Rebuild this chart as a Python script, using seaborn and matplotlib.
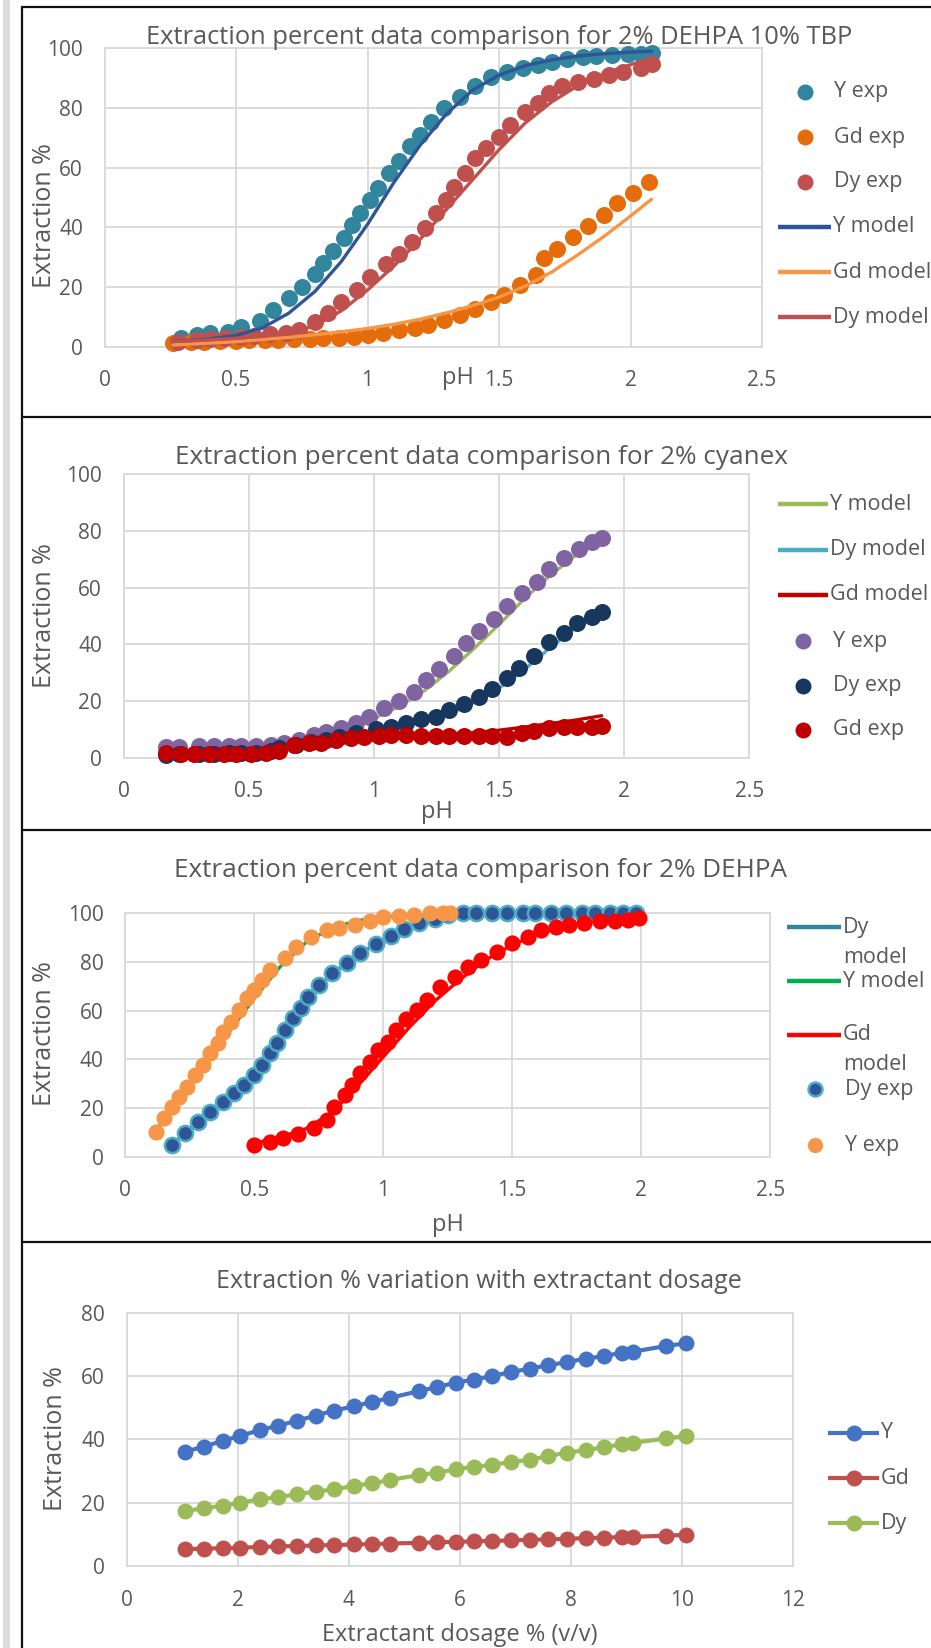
import numpy as np
import seaborn as sns
import matplotlib.pyplot as plt
from matplotlib.lines import Line2D
from matplotlib.patches import Rectangle

W, H = 931, 1648

# ---- panel 1: 2% DEHPA 10% TBP ----
p1_y_exp_ph = [0.29, 0.35, 0.40, 0.47, 0.52, 0.59, 0.64, 0.70, 0.75, 0.80, 0.83, 0.87, 0.91,
               0.94, 0.97, 1.01, 1.04, 1.08, 1.12, 1.16, 1.20, 1.24, 1.29, 1.35, 1.41, 1.47,
               1.53, 1.59, 1.65, 1.70, 1.76, 1.82, 1.87, 1.93, 1.99, 2.04, 2.08]
p1_y_exp = [2.8, 3.9, 4.5, 5.0, 6.7, 8.7, 12.3, 16.2, 19.9, 24.4, 27.9, 32.2, 36.3, 40.8, 44.9,
            49.2, 53.1, 58.1, 62.3, 67.3, 70.9, 75.4, 79.9, 83.8, 87.4, 90.5, 92.2, 93.3, 94.4,
            95.5, 96.3, 97.0, 97.4, 97.8, 98.0, 98.1, 98.3]
p1_gd_exp_ph = [0.26, 0.33, 0.38, 0.44, 0.50, 0.55, 0.61, 0.66, 0.72, 0.78, 0.83, 0.89, 0.95,
                1.00, 1.06, 1.12, 1.18, 1.23, 1.29, 1.35, 1.41, 1.47, 1.52, 1.58, 1.64, 1.67,
                1.72, 1.78, 1.84, 1.90, 1.95, 2.01, 2.07]
p1_gd_exp = [1.1, 1.7, 1.7, 2.0, 2.0, 2.2, 2.2, 2.2, 2.5, 2.6, 2.8, 3.0, 3.1, 3.9, 4.7, 5.6, 6.1,
             7.3, 8.9, 10.6, 12.5, 15.1, 17.3, 20.7, 24.0, 29.6, 32.9, 36.9, 40.5, 44.1, 48.2,
             51.6, 55.3]
p1_dy_exp_ph = [0.28, 0.35, 0.40, 0.46, 0.52, 0.57, 0.63, 0.69, 0.74, 0.80, 0.85, 0.90, 0.96,
                1.01, 1.07, 1.12, 1.17, 1.22, 1.26, 1.30, 1.33, 1.37, 1.41, 1.45, 1.50, 1.54,
                1.60, 1.65, 1.69, 1.74, 1.80, 1.86, 1.92, 1.97, 2.04, 2.08]
p1_dy_exp = [1.7, 2.2, 2.5, 2.8, 3.1, 3.6, 4.1, 4.5, 5.6, 8.4, 11.4, 15.1, 19.0, 23.5, 27.7, 31.1,
             35.2, 39.7, 44.9, 49.2, 53.6, 58.1, 63.1, 66.5, 70.4, 74.3, 78.8, 81.6, 84.9, 87.2,
             88.8, 89.6, 91.1, 92.2, 93.3, 94.9]
p1_model_ph = [0.26, 0.40, 0.50, 0.60, 0.70, 0.80, 0.90, 1.00, 1.10, 1.20, 1.30, 1.40, 1.50,
               1.60, 1.70, 1.80, 1.90, 2.00, 2.08]
p1_y_model = [1.7, 2.6, 3.8, 6.3, 11.2, 18.5, 28.5, 41.0, 55.0, 67.5, 78.0, 86.0, 91.0, 94.2,
              96.1, 97.4, 98.2, 98.7, 99.0]
p1_gd_model = [0.6, 1.2, 1.7, 2.4, 3.1, 4.0, 5.0, 6.1, 7.5, 9.2, 11.3, 13.8, 16.6, 20.3, 25.0,
               30.8, 37.0, 43.8, 49.4]
p1_dy_model = [1.7, 2.3, 2.8, 3.5, 4.6, 7.0, 12.0, 19.0, 27.0, 36.0, 46.0, 56.0, 66.0, 75.0,
               82.0, 87.5, 91.5, 94.5, 96.8]

# ---- panel 2: 2% cyanex ----
p2_y_exp_ph = [0.17, 0.22, 0.30, 0.36, 0.42, 0.47, 0.53, 0.59, 0.64, 0.70, 0.76, 0.81, 0.87,
               0.93, 0.98, 1.04, 1.10, 1.16, 1.21, 1.26, 1.32, 1.37, 1.42, 1.48, 1.53, 1.59,
               1.65, 1.70, 1.76, 1.82, 1.87, 1.91]
p2_y_exp = [3.9, 3.9, 4.1, 4.1, 4.1, 4.1, 4.1, 4.5, 5.1, 6.2, 8.0, 9.2, 10.4, 12.1, 14.5, 17.4,
            20.0, 23.3, 27.4, 31.3, 36.0, 40.6, 44.7, 48.9, 53.6, 58.0, 62.1, 66.6, 70.4, 73.6,
            76.2, 77.4]
p2_dy_exp_ph = [0.17, 0.22, 0.30, 0.36, 0.42, 0.47, 0.53, 0.59, 0.62, 0.69, 0.75, 0.81, 0.86,
                0.93, 1.01, 1.07, 1.13, 1.19, 1.25, 1.30, 1.36, 1.42, 1.47, 1.53, 1.58, 1.64,
                1.70, 1.76, 1.81, 1.87, 1.91]
p2_dy_exp = [1.0, 1.2, 1.3, 1.4, 1.5, 1.6, 1.8, 2.2, 3.3, 4.5, 5.6, 6.2, 7.4, 8.6, 10.1, 10.9,
             12.1, 13.6, 14.4, 16.8, 18.8, 21.5, 24.2, 28.0, 31.8, 36.0, 40.7, 43.9, 47.4, 49.8,
             51.5]
p2_gd_exp_ph = [0.17, 0.23, 0.28, 0.34, 0.40, 0.45, 0.51, 0.57, 0.62, 0.68, 0.74, 0.79, 0.85,
                0.91, 0.96, 1.02, 1.07, 1.13, 1.19, 1.25, 1.30, 1.36, 1.42, 1.47, 1.53, 1.59,
                1.64, 1.70, 1.76, 1.81, 1.87, 1.91]
p2_gd_exp = [1.5, 1.2, 1.2, 1.2, 1.2, 1.2, 1.2, 1.5, 2.4, 4.5, 5.1, 5.3, 6.2, 6.8, 7.4, 7.8, 8.0,
             8.0, 7.8, 7.8, 7.8, 7.8, 7.8, 7.8, 7.3, 8.6, 9.4, 10.4, 10.9, 10.9, 10.9, 11.3]
p2_model_ph = [0.17, 0.30, 0.40, 0.50, 0.60, 0.70, 0.80, 0.90, 1.00, 1.10, 1.20, 1.30, 1.40,
               1.50, 1.60, 1.70, 1.80, 1.91]
p2_y_model = [1.0, 1.2, 1.6, 2.4, 3.6, 5.6, 8.0, 10.5, 13.8, 18.0, 23.5, 30.5, 38.5, 47.0, 56.0,
              64.0, 71.0, 76.5]
p2_dy_model = [0.8, 1.0, 1.3, 1.8, 2.6, 3.8, 5.2, 6.8, 8.6, 10.6, 12.8, 15.6, 19.5, 24.5, 31.0,
               38.5, 45.5, 51.0]
p2_gd_model = [0.8, 1.3, 1.8, 2.4, 3.0, 3.8, 4.6, 5.4, 6.2, 6.9, 7.5, 8.1, 8.8, 9.7, 10.8, 12.0,
               13.2, 14.8]

# ---- panel 3: 2% DEHPA ----
p3_y_exp_ph = [0.12, 0.15, 0.18, 0.21, 0.24, 0.27, 0.30, 0.33, 0.36, 0.38, 0.41, 0.44, 0.47,
               0.50, 0.53, 0.56, 0.62, 0.66, 0.72, 0.78, 0.83, 0.89, 0.95, 1.00, 1.06, 1.12,
               1.18, 1.23, 1.26]
p3_y_exp = [10.3, 15.8, 20.5, 24.7, 28.8, 33.6, 37.7, 42.5, 46.6, 51.4, 55.5, 60.3, 65.1, 68.5,
            72.6, 76.7, 81.5, 86.3, 90.4, 93.2, 93.8, 95.2, 97.0, 98.4, 98.9, 99.3, 100.0,
            100.0, 100.0]
p3_dy_exp_ph = [0.18, 0.23, 0.28, 0.33, 0.38, 0.42, 0.46, 0.50, 0.53, 0.56, 0.59, 0.62, 0.65,
                0.68, 0.71, 0.75, 0.80, 0.86, 0.91, 0.97, 1.03, 1.08, 1.14, 1.20, 1.25, 1.31,
                1.36, 1.42, 1.48, 1.54, 1.59, 1.65, 1.71, 1.77, 1.82, 1.88, 1.93, 1.98]
p3_dy_exp = [4.8, 9.6, 14.4, 18.5, 22.6, 26.3, 29.5, 33.6, 37.7, 42.5, 46.6, 52.1, 56.8, 61.0,
             65.8, 70.5, 75.6, 79.7, 83.6, 87.4, 90.7, 93.4, 95.9, 97.5, 99.3, 100, 100, 100,
             100, 100, 100, 100, 100, 100, 100, 100, 100, 100]
p3_gd_exp_ph = [0.50, 0.56, 0.61, 0.67, 0.73, 0.78, 0.81, 0.85, 0.88, 0.91, 0.95, 0.98, 1.02,
                1.05, 1.09, 1.13, 1.17, 1.22, 1.28, 1.33, 1.38, 1.44, 1.50, 1.56, 1.61, 1.67,
                1.72, 1.78, 1.84, 1.90, 1.95, 1.99]
p3_gd_exp = [4.8, 6.2, 7.5, 9.3, 11.9, 15.1, 20.5, 25.3, 29.5, 34.2, 39.0, 43.8, 47.3, 52.1,
             56.4, 60.3, 64.4, 69.9, 74.0, 77.8, 80.8, 84.2, 87.7, 90.4, 93.2, 94.2, 95.2, 96.2,
             96.8, 97.0, 97.3, 98.0]
p3_y_model_ph = [0.12, 0.20, 0.30, 0.40, 0.50, 0.60, 0.70, 0.80, 0.90, 1.00, 1.10, 1.26]
p3_y_model = [11, 22, 36, 51, 65, 78, 88, 94, 97, 98.5, 99.3, 99.8]
p3_dy_model_ph = [0.18, 0.30, 0.40, 0.50, 0.60, 0.70, 0.80, 0.90, 1.00, 1.10, 1.20, 1.30, 1.50, 1.98]
p3_dy_model = [5, 16, 24.5, 34, 48, 64, 75, 83, 89, 94, 97.5, 99.3, 100, 100]
p3_gd_model_ph = [0.50, 0.60, 0.70, 0.80, 0.90, 1.00, 1.10, 1.20, 1.30, 1.40, 1.50, 1.60, 1.70,
                  1.80, 1.99]
p3_gd_model = [5.5, 8, 11.5, 18, 29, 41, 53, 64, 73, 81, 87, 91.5, 94.5, 96.5, 98]

# ---- panel 4: dosage ----
dosage = [1.06, 1.39, 1.73, 2.05, 2.40, 2.73, 3.07, 3.41, 3.74, 4.09, 4.42, 4.75, 5.26, 5.59,
          5.93, 6.26, 6.59, 6.93, 7.26, 7.59, 7.94, 8.27, 8.61, 8.93, 9.13, 9.72, 10.07]
dose_y = [36.1, 37.7, 39.5, 41.1, 42.9, 44.3, 45.9, 47.5, 49.1, 50.4, 51.8, 53.1, 55.2, 56.5,
          57.9, 58.9, 60.0, 61.3, 62.3, 63.4, 64.4, 65.5, 66.3, 67.4, 67.7, 69.5, 70.3]
dose_gd = [5.3, 5.5, 5.6, 5.8, 6.0, 6.2, 6.3, 6.5, 6.6, 6.8, 6.9, 7.1, 7.3, 7.5, 7.6, 7.8, 7.9,
           8.1, 8.3, 8.4, 8.6, 8.8, 9.0, 9.1, 9.2, 9.6, 9.8]
dose_dy = [17.4, 18.2, 19.1, 20.0, 21.1, 21.7, 22.7, 23.5, 24.2, 25.3, 26.1, 27.2, 28.7, 29.5,
           30.5, 31.4, 31.9, 32.9, 33.5, 34.7, 35.8, 36.6, 37.5, 38.5, 38.9, 40.3, 41.1]

TXT = "#595959"
GRID = "#D9D9D9"

sns.set_theme(style="white")
plt.rcParams['font.family'] = ['Open Sans', 'DejaVu Sans']

fig = plt.figure(figsize=(W / 100, H / 100), dpi=100)
fig.patch.set_facecolor("white")


def fx(x):
    return x / W


def fy(y):
    return 1 - y / H


def make_ax(l, t, r, b, xmax, xstep, ymax, ystep):
    ax = fig.add_axes([fx(l), fy(b), (r - l) / W, (b - t) / H])
    ax.set_xlim(0, xmax)
    ax.set_ylim(0, ymax)
    xt = np.arange(0, xmax + xstep / 2, xstep)
    yt = np.arange(0, ymax + ystep / 2, ystep)
    ax.set_xticks(xt)
    ax.set_xticklabels([f"{v:g}" for v in xt])
    ax.set_yticks(yt)
    ax.set_yticklabels([f"{v:g}" for v in yt])
    ax.grid(True, color=GRID, lw=1.3)
    ax.set_axisbelow(True)
    for s in ax.spines.values():
        s.set_color(GRID)
        s.set_linewidth(1.3)
    ax.tick_params(length=0, labelsize=15, labelcolor=TXT)
    ax.tick_params(axis="y", pad=15.5)
    ax.tick_params(axis="x", pad=17)
    return ax


def labels(ax, title, tsize, xlabel, xl_xy, yl_xy, l, t, r, b):
    fig.text(fx(title[0]), fy(title[1]), title[2], ha="center", va="center",
             fontsize=tsize, color=TXT)
    ax.set_xlabel(xlabel, fontsize=17, color=TXT, va="center")
    ax.xaxis.set_label_coords((xl_xy[0] - l) / (r - l), -(xl_xy[1] - b) / (b - t))
    ax.set_ylabel("Extraction %", fontsize=18, color=TXT, va="center", ha="center")
    ax.yaxis.set_label_coords((yl_xy[0] - l) / (r - l), (b - yl_xy[1]) / (b - t))


def key_line(x0, x1, y, color, lw=3.2):
    fig.add_artist(Line2D([fx(x0), fx(x1)], [fy(y), fy(y)], color=color, lw=lw,
                          solid_capstyle="butt"))


def key_dot(x, y, color, ms=11.5, edge=None, mew=0):
    fig.add_artist(Line2D([fx(x)], [fy(y)], marker="o", ms=ms, color=color, ls="none",
                          mec=edge if edge else color, mew=mew))


def key_text(x, y, s):
    fig.text(fx(x), fy(y), s, ha="left", va="center", fontsize=15.5, color=TXT)


def dots(ax, x, y, color, s=150, z=3, **kw):
    sns.scatterplot(x=x, y=y, color=color, s=s, linewidth=0, ax=ax, zorder=z,
                    clip_on=False, legend=False, **kw)


def curve(ax, x, y, color, z=4, lw=2.4):
    sns.lineplot(x=x, y=y, color=color, lw=lw, ax=ax, zorder=z, legend=False)


# page frame
fig.add_artist(Rectangle((fx(3), 0), 7 / W, 1, transform=fig.transFigure,
                         color="#DCDCDC", lw=0))
fig.add_artist(Line2D([fx(22), fx(22)], [fy(7), 0], color="#111111", lw=1.6))
for yy in [7, 417, 830, 1242]:
    fig.add_artist(Line2D([fx(22), 1], [fy(yy), fy(yy)], color="#111111", lw=1.6))

# ---- panel 1 ----
L, T, R, B = 104.5, 48.3, 762, 346.7
ax1 = make_ax(L, T, R, B, 2.5, 0.5, 100, 20)
dots(ax1, p1_y_exp_ph, p1_y_exp, "#31859C")
dots(ax1, p1_gd_exp_ph, p1_gd_exp, "#E46C0A")
dots(ax1, p1_dy_exp_ph, p1_dy_exp, "#C0504D")
curve(ax1, p1_model_ph, p1_y_model, "#2F5597")
curve(ax1, p1_model_ph, p1_gd_model, "#F79646")
curve(ax1, p1_model_ph, p1_dy_model, "#C0504D")
labels(ax1, (499, 37, "Extraction percent data comparison for 2% DEHPA 10% TBP"), 18.4,
       "pH", (458, 378), (44.5, 216), L, T, R, B)
key_dot(805, 92, "#31859C")
key_dot(805, 137, "#E46C0A")
key_dot(805, 182, "#C0504D")
key_line(778, 831, 227, "#2F5597")
key_line(778, 831, 272, "#F79646")
key_line(778, 831, 317, "#C0504D")
for yy, s in zip([92, 137, 182], ["Y exp", "Gd exp", "Dy exp"]):
    key_text(834, yy, s)
for yy, s in zip([227, 272, 317], ["Y model", "Gd model", "Dy model"]):
    key_text(833, yy, s)

# ---- panel 2 ----
L, T, R, B = 123.5, 474.3, 749.4, 757.7
ax2 = make_ax(L, T, R, B, 2.5, 0.5, 100, 20)
curve(ax2, p2_model_ph, p2_y_model, "#9BBB59", z=2.5)
curve(ax2, p2_model_ph, p2_dy_model, "#4BACC6", z=2.5)
curve(ax2, p2_model_ph, p2_gd_model, "#C00000", z=2.5)
dots(ax2, p2_y_exp_ph, p2_y_exp, "#8064A2")
dots(ax2, p2_dy_exp_ph, p2_dy_exp, "#17375E")
dots(ax2, p2_gd_exp_ph, p2_gd_exp, "#C00000")
labels(ax2, (481, 458, "Extraction percent data comparison for 2% cyanex"), 18.8, "pH",
       (436.5, 812), (44.5, 616), L, T, R, B)
key_line(778, 828, 504, "#9BBB59")
key_line(778, 828, 550, "#4BACC6")
key_line(778, 828, 595, "#C00000")
for yy, s in zip([504, 550, 595], ["Y model", "Dy model", "Gd model"]):
    key_text(830, yy, s)
key_dot(803, 641, "#8064A2")
key_dot(803, 686, "#17375E")
key_dot(803, 730, "#C00000")
for yy, s in zip([641, 686, 730], ["Y exp", "Dy exp", "Gd exp"]):
    key_text(833, yy, s)

# ---- panel 3 ----
L, T, R, B = 125.3, 913.3, 770.2, 1156.7
ax3 = make_ax(L, T, R, B, 2.5, 0.5, 100, 20)
curve(ax3, p3_dy_model_ph, p3_dy_model, "#31859C", z=2.5)
curve(ax3, p3_y_model_ph, p3_y_model, "#00B050", z=2.5)
curve(ax3, p3_gd_model_ph, p3_gd_model, "#FF0000", z=2.5)
sns.scatterplot(x=p3_dy_exp_ph, y=p3_dy_exp, color="#2F5597", s=120, edgecolor="#4BACC6",
                linewidth=1.8, ax=ax3, zorder=3, clip_on=False, legend=False)
dots(ax3, p3_y_exp_ph, p3_y_exp, "#F79646", s=135)
dots(ax3, p3_gd_exp_ph, p3_gd_exp, "#FF0000", s=135)
labels(ax3, (481, 870, "Extraction percent data comparison for 2% DEHPA"), 18.8, "pH",
       (448, 1225), (44.5, 1034), L, T, R, B)
key_line(787, 841, 927, "#31859C")
key_line(787, 841, 981, "#00B050")
key_line(787, 841, 1035, "#FF0000")
key_text(843, 927, "Dy")
key_text(843, 957, "model")
key_text(843, 981, "Y model")
key_text(843, 1035, "Gd")
key_text(843, 1065, "model")
key_dot(815, 1089, "#2F5597", ms=10, edge="#4BACC6", mew=1.8)
key_dot(815, 1145, "#F79646", ms=11)
key_text(845, 1089, "Dy exp")
key_text(845, 1145, "Y exp")

# ---- panel 4 ----
L, T, R, B = 126.5, 1312.7, 792.7, 1566
ax4 = make_ax(L, T, R, B, 12, 2, 80, 20)
for yv, c in [(dose_y, "#4472C4"), (dose_gd, "#C0504D"), (dose_dy, "#9BBB59")]:
    sns.lineplot(x=dosage, y=yv, color=c, lw=3, marker="o", markersize=11.5,
                 markeredgewidth=0, ax=ax4, legend=False)
labels(ax4, (479, 1282, "Extraction % variation with extractant dosage"), 18,
       "Extractant dosage % (v/v)", (460, 1635), (56, 1439), L, T, R, B)
for yy, c, s in [(1433, "#4472C4", "Y"), (1478, "#C0504D", "Gd"), (1523, "#9BBB59", "Dy")]:
    key_line(828, 879, yy, c, lw=3)
    key_dot(853.5, yy, c, ms=11.5)
    key_text(881, yy, s)

fig.savefig("out.png", dpi=100, facecolor="white")
